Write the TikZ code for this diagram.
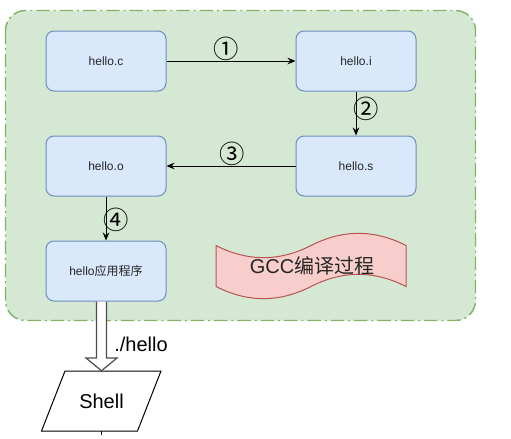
\documentclass[tikz,border=0pt]{standalone}
\usepackage{fontspec}
\setmainfont{Liberation Sans}
\newfontfamily\cjk{Noto Sans CJK SC}
\usetikzlibrary{arrows.meta,calc}
\definecolor{boxfill}{HTML}{DAE8FC}
\definecolor{boxline}{HTML}{6C8EBF}
\definecolor{grpfill}{HTML}{D5E8D4}
\definecolor{grpline}{HTML}{82B366}
\definecolor{tapefill}{HTML}{F8CECC}
\definecolor{tapeline}{HTML}{B85450}
\begin{document}
\begin{tikzpicture}[x=0.75pt,y=-0.75pt,
  box/.style={draw=boxline, fill=boxfill, rounded corners=6pt, minimum width=90pt,
    minimum height=45pt, inner sep=0pt, font=\fontsize{9}{10}\selectfont, text=black!85, line width=0.75pt},
  arr/.style={-{Stealth[length=6pt,width=5pt]}, line width=0.75pt},
  num/.style={font=\cjk\fontsize{19}{20}\selectfont, inner sep=0pt},
  group/.style={draw=grpline, fill=grpfill, line width=1.1pt, rounded corners=15pt,
    dash pattern=on 10pt off 3pt on 1.5pt off 3pt},
  tape/.style={draw=tapeline, fill=tapefill, line width=0.75pt},
  hollow/.style={draw=black!70, fill=white, line width=0.9pt, line join=miter},
  big/.style={font=\fontsize{15}{16}\selectfont, inner sep=0pt},
]
\useasboundingbox (0,0) rectangle (511,439);
% group container
\draw[group] (5.5,10.5) rectangle (475.5,320.5);
% boxes
\node[box] (c) at (106,61) {hello.c};
\node[box] (i) at (356,61) {hello.i};
\node[box] (s) at (356,166) {hello.s};
\node[box] (o) at (106,166) {hello.o};
\node[box] (app) at (106,271) {hello{\cjk 应用程序}};
% connectors
\draw[arr] (c) -- (i);
\draw[arr] (i) -- (s);
\draw[arr] (s) -- (o);
\draw[arr] (o) -- (app);
\node[num] (n1) at (226,49) {①};
\node[num] (n2) at (366,109) {②};
\node[num] (n3) at (232,154) {③};
\node[num] (n4) at (116,220) {④};
% tape
\draw[tape] (216,245.5) .. controls (247.67,261.7) and (279.33,261.7) .. (311,245.5)
  .. controls (342.67,229.3) and (374.33,229.3) .. (406,245.5)
  -- (406,286.5)
  .. controls (374.33,270.3) and (342.67,270.3) .. (311,286.5)
  .. controls (279.33,302.7) and (247.67,302.7) .. (216,286.5) -- cycle;
\node[big, text=black!85] (gcc) at (312,266) {GCC{\cjk 编译过程}};
% shell
\draw[draw=black, fill=white, line width=0.75pt] (65,371) -- (161,371) -- (137.5,431) -- (41.5,431) -- cycle;
\node[big, minimum height=45pt, minimum width=50pt] (shell) at (101.5,401) {Shell};
% hollow arrow
\coordinate (a0) at (101.5,301.5);
\draw[hollow] ($(a0)+(-5,0)$) -- ($(a0)+(-5,56.5)$) -- ($(a0)+(-15.5,56.5)$) -- (shell.north)
  -- ($(a0)+(15.5,56.5)$) -- ($(a0)+(5,56.5)$) -- ($(a0)+(5,0)$);
\node[big] (run) at (141,344) {./hello};
% dashed continuation
\coordinate (down) at (101.5,440);
\draw[dashed, line width=0.6pt] (shell.south) -- (down);
\end{tikzpicture}
\end{document}
